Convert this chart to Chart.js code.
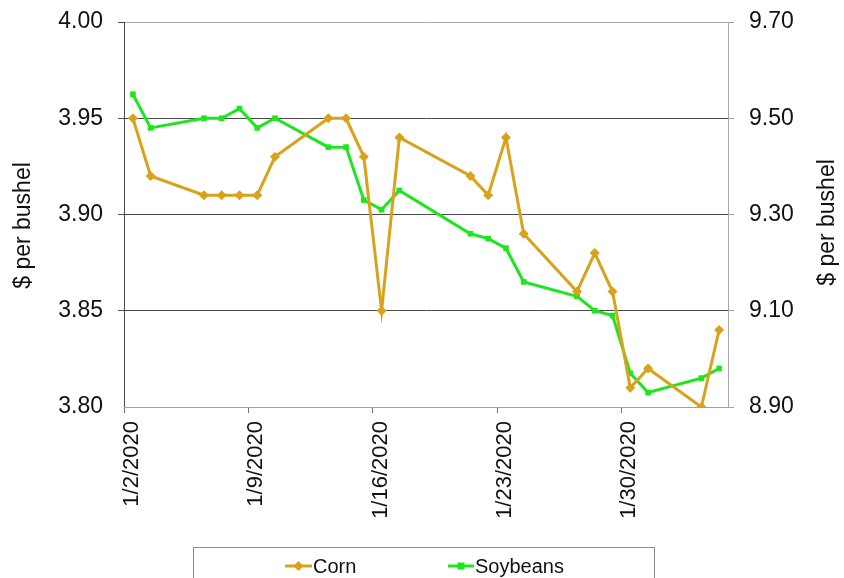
<!DOCTYPE html>
<html>
<head>
<meta charset="utf-8">
<script src="https://cdn.jsdelivr.net/npm/chart.js@4.4.1/dist/chart.umd.min.js"></script>
<style>
  html, body { margin: 0; padding: 0; background: #ffffff; }
  #wrap { width: 844px; height: 578px; position: relative; overflow: hidden; }
</style>
</head>
<body>
<div id="wrap"><canvas id="c" width="844" height="578"></canvas></div>
<script>
// ---- data ----
const dates = ['2020-01-02','2020-01-03','2020-01-06','2020-01-07','2020-01-08','2020-01-09','2020-01-10',
               '2020-01-13','2020-01-14','2020-01-15','2020-01-16','2020-01-17','2020-01-21','2020-01-22',
               '2020-01-23','2020-01-24','2020-01-27','2020-01-28','2020-01-29','2020-01-30','2020-01-31',
               '2020-02-03','2020-02-04'];
const corn = [3.95,3.92,3.91,3.91,3.91,3.91,3.93,3.95,3.95,3.93,3.85,3.94,3.92,3.91,3.94,3.89,3.86,3.88,3.86,3.81,3.82,3.80,3.84];
const soybeans = [9.55,9.48,9.50,9.50,9.52,9.48,9.50,9.44,9.44,9.33,9.31,9.35,9.26,9.25,9.23,9.16,9.13,9.10,9.09,8.97,8.93,8.96,8.98];
const tickDates = ['2020-01-02','2020-01-09','2020-01-16','2020-01-23','2020-01-30'];
const tickLabels = ['1/2/2020','1/9/2020','1/16/2020','1/23/2020','1/30/2020'];
const axisEndDate = '2020-02-05';
const seriesNames = ['Corn','Soybeans'];
const axisTitle = '$ per bushel';

const FONT = '"Liberation Sans", Arial, sans-serif';
const CORN_C = '#d9a21b';
const SOY_C = '#1ee61e';

const DAY = 86400000;
const t0 = Date.parse(dates[0]);
const dayIdx = s => (Date.parse(s) - t0) / DAY;
const cornPts = dates.map((d, i) => ({ x: dayIdx(d) + 0.5, y: corn[i] }));
const soyPts = dates.map((d, i) => ({ x: dayIdx(d) + 0.5, y: soybeans[i] }));

const extras = {
  id: 'extras',
  afterDraw(chart) {
    const ctx = chart.ctx;
    const ca = chart.chartArea;
    const midY = (ca.top + ca.bottom) / 2 + 11;
    ctx.save();
    ctx.fillStyle = '#111';
    ctx.font = '23px ' + FONT;
    ctx.textAlign = 'center';
    ctx.textBaseline = 'middle';
    [[24, midY], [828, midY - 3]].forEach(([x, y]) => {
      ctx.save();
      ctx.translate(x, y);
      ctx.rotate(-Math.PI / 2);
      ctx.fillText(axisTitle, 0, 0);
      ctx.restore();
    });
    // legend box
    ctx.strokeStyle = '#8a8a8a';
    ctx.lineWidth = 1;
    ctx.strokeRect(193.5, 547.5, 461, 40);
    const items = [
      { x0: 285, x1: 312, tx: 313, ds: chart.data.datasets[0] },
      { x0: 448, x1: 474, tx: 475, ds: chart.data.datasets[1] }
    ];
    const ly = 566;
    items.forEach(it => {
      ctx.strokeStyle = it.ds.borderColor;
      ctx.lineWidth = 3;
      ctx.beginPath(); ctx.moveTo(it.x0, ly); ctx.lineTo(it.x1, ly); ctx.stroke();
      ctx.fillStyle = it.ds.borderColor;
      const cx = (it.x0 + it.x1) / 2;
      ctx.beginPath();
      if (it.ds.pointStyle === 'rectRot') {
        ctx.moveTo(cx, ly - 5); ctx.lineTo(cx + 5, ly); ctx.lineTo(cx, ly + 5); ctx.lineTo(cx - 5, ly);
      } else {
        ctx.rect(cx - 3.5, ly - 3.5, 7, 7);
      }
      ctx.closePath(); ctx.fill();
      ctx.fillStyle = '#111';
      ctx.font = '20px ' + FONT;
      ctx.textAlign = 'left';
      ctx.textBaseline = 'middle';
      ctx.fillText(it.ds.label, it.tx, ly + 1);
    });
    ctx.restore();
  }
};

const fixY = w => s => { s.width = w; s.paddingTop = 0; s.paddingBottom = 0; };

new Chart(document.getElementById('c'), {
  type: 'line',
  data: {
    datasets: [
      { label: seriesNames[0], data: cornPts, yAxisID: 'y', borderColor: CORN_C, backgroundColor: CORN_C,
        borderWidth: 3, pointStyle: 'rectRot', pointRadius: 5, pointBorderWidth: 0, tension: 0 },
      { label: seriesNames[1], data: soyPts, yAxisID: 'y2', borderColor: SOY_C, backgroundColor: SOY_C,
        borderWidth: 3, pointStyle: 'rect', pointRadius: 4, pointBorderWidth: 0, tension: 0 }
    ]
  },
  options: {
    responsive: false,
    devicePixelRatio: 1,
    animation: false,
    layout: { padding: { top: 22, left: 0, right: 0, bottom: 0 } },
    plugins: { legend: { display: false }, tooltip: { enabled: false } },
    scales: {
      x: {
        type: 'linear',
        min: 0,
        max: dayIdx(axisEndDate),
        afterBuildTicks: s => { s.ticks = tickDates.map(d => ({ value: dayIdx(d) })); },
        afterFit: s => { s.height = 171; s.paddingLeft = 0; s.paddingRight = 0; },
        border: { display: true, color: '#a0a0a0', width: 1 },
        grid: { drawOnChartArea: false, drawTicks: true, tickLength: 6, tickColor: '#707070' },
        ticks: {
          minRotation: 90, maxRotation: 90, padding: 8, labelOffset: 8,
          color: '#111', font: { family: FONT, size: 22 },
          callback: (v, i) => tickLabels[i]
        }
      },
      y: {
        position: 'left',
        min: 3.80, max: 4.00,
        afterFit: fixY(124),
        border: { display: true, color: '#4a4a4a', width: 1 },
        grid: {
          drawTicks: true, tickLength: 6, tickColor: '#4a4a4a',
          color: c => (c.tick && Math.abs(c.tick.value - 4.0) < 1e-6) ? '#a8a8a8' : '#4a4a4a',
          lineWidth: c => (c.tick && Math.abs(c.tick.value - 3.8) < 1e-6) ? 0 : 1
        },
        ticks: { stepSize: 0.05, padding: 15, color: '#111', font: { family: FONT, size: 23 },
                 callback: v => Number(v).toFixed(2) }
      },
      y2: {
        position: 'right',
        min: 8.90, max: 9.70,
        afterFit: fixY(116),
        border: { display: true, color: '#a8a8a8', width: 1 },
        grid: { drawOnChartArea: false, drawTicks: true, tickLength: 6, tickColor: '#a0a0a0' },
        ticks: { stepSize: 0.2, padding: 15, color: '#111', font: { family: FONT, size: 23 },
                 callback: v => Number(v).toFixed(2) }
      }
    }
  },
  plugins: [extras]
});
</script>
</body>
</html>
